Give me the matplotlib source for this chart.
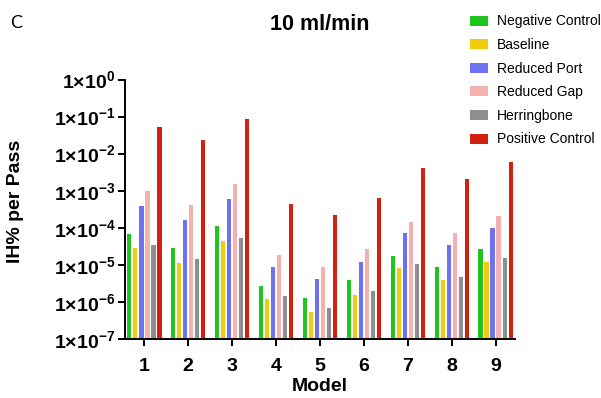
import numpy as np
import matplotlib
matplotlib.use("Agg")
from matplotlib import pyplot as plt
from matplotlib.patches import Patch
from matplotlib.ticker import FixedLocator, NullLocator

plt.rcParams['font.family'] = ['Liberation Sans', 'DejaVu Sans']
plt.rcParams['mathtext.fontset'] = 'custom'
plt.rcParams['mathtext.rm'] = 'Liberation Sans'
plt.rcParams['mathtext.bf'] = 'Liberation Sans:bold'

# data
models = [1, 2, 3, 4, 5, 6, 7, 8, 9]
series = ["Negative Control", "Baseline", "Reduced Port", "Reduced Gap",
          "Herringbone", "Positive Control"]
neg_control = [6.9e-5, 2.9e-5, 1.1e-4, 2.7e-6, 1.3e-6, 3.9e-6, 1.7e-5, 8.5e-6, 2.6e-5]
baseline = [2.8e-5, 1.15e-5, 4.3e-5, 1.2e-6, 5.2e-7, 1.55e-6, 8.1e-6, 3.9e-6, 1.2e-5]
reduced_port = [3.8e-4, 1.6e-4, 6.0e-4, 9.0e-6, 4.1e-6, 1.2e-5, 7.1e-5, 3.5e-5, 1.0e-4]
reduced_gap = [9.6e-4, 4.2e-4, 1.5e-3, 1.9e-5, 8.7e-6, 2.6e-5, 1.47e-4, 7.4e-5, 2.1e-4]
herringbone = [3.4e-5, 1.4e-5, 5.3e-5, 1.45e-6, 6.7e-7, 2.0e-6, 1.05e-5, 4.8e-6, 1.5e-5]
pos_control = [5.3e-2, 2.3e-2, 8.5e-2, 4.4e-4, 2.2e-4, 6.4e-4, 4.2e-3, 2.1e-3, 6.0e-3]
yticks = [1e-7, 1e-6, 1e-5, 1e-4, 1e-3, 1e-2, 1e-1, 1e0]
ytick_labels = [r'$\mathbf{1{\times}10^{%d}}$' % p for p in range(-7, 1)]

colors = ['#1fc41f', '#f3cb0c', '#6c72f2', '#f5b1b1', '#8e8e8e', '#d2220f']
values = [neg_control, baseline, reduced_port, reduced_gap, herringbone, pos_control]

fig = plt.figure(figsize=(6.01, 3.98), dpi=100)
ax = fig.add_axes([125/601, 1 - 339/398, (515-125)/601, (339-79.5)/398])

x = np.array(models, dtype=float)
step = 0.137
width = 0.1
for i, (vals, c) in enumerate(zip(values, colors)):
    ax.bar(x + (i - 2.5)*step, vals, width=width, color=c, bottom=0, linewidth=0)

ax.set_yscale('log')
ax.set_ylim(1e-7, 1e0)
ax.set_xlim(0.56, 9.44)
ax.yaxis.set_major_locator(FixedLocator(yticks))
ax.yaxis.set_minor_locator(NullLocator())
ax.set_yticklabels(ytick_labels, fontsize=14)
ax.set_xticks(models)
ax.set_xticklabels([str(m) for m in models], fontsize=14, fontweight='bold')

for s in ['top', 'right']:
    ax.spines[s].set_visible(False)
for s in ['left', 'bottom']:
    ax.spines[s].set_linewidth(1.4)
ax.tick_params(axis='both', which='major', length=5, width=1.4, direction='out')
ax.tick_params(axis='y', pad=2)
ax.tick_params(axis='x', pad=9)

ax.set_xlabel("Model", fontsize=14, fontweight='bold', labelpad=1.5)
ax.set_ylabel("IH% per Pass", fontsize=14, fontweight='bold')
ax.yaxis.set_label_coords(-0.259, 0.532)
fig.text(320/601, 1 - 25/398, "10 ml/min", fontsize=15.5, fontweight='bold',
         ha='center', va='center')
fig.text(10/601, 1 - 23/398, "C", fontsize=13, family=['Lato', 'DejaVu Sans'],
         ha='left', va='center')

handles = [Patch(facecolor=c, edgecolor='none') for c in colors]
fig.legend(handles, series, loc='upper left', bbox_to_anchor=(470/601, 1 - 14.5/398),
           frameon=False, fontsize=10, handlelength=1.3, handleheight=0.72,
           handletextpad=0.65, labelspacing=0.69, borderpad=0, borderaxespad=0)

fig.savefig("out.png", dpi=100)
